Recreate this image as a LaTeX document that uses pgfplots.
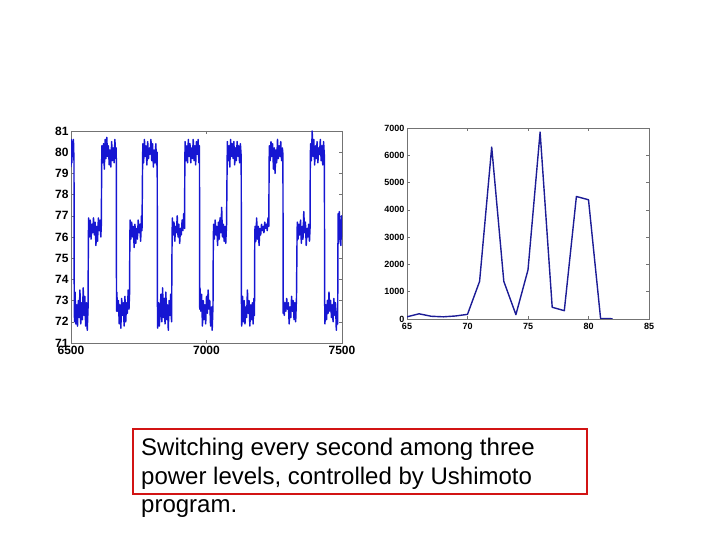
\documentclass[border=0pt]{standalone}
\usepackage{pgfplots}
\pgfplotsset{compat=1.18}
\usepackage{fontspec}
\setmainfont{Liberation Sans}
\definecolor{trace}{RGB}{22,22,210}
\definecolor{histo}{RGB}{28,28,150}
\definecolor{boxred}{RGB}{210,20,20}

\pgfplotsset{
  matlab/.style={
    scale only axis,
    anchor=south west,
    axis line style={black!55, line width=0.6pt},
    tick align=inside,
    tick pos=both,
    major tick length=3pt,
    every tick/.style={black!55, line width=0.5pt},
    /pgf/number format/assume math mode=true,
    /pgf/number format/set thousands separator={},
    scaled ticks=false,
  }
}

\begin{document}
\begin{tikzpicture}
\path[fill=white, use as bounding box] (0,0) rectangle (720pt,540pt);

% left: temperature trace
\begin{axis}[matlab,
  at={(71pt,197pt)}, width=271pt, height=212pt,
  xmin=6500, xmax=7500, ymin=71, ymax=81,
  xtick={6500,7000,7500}, ytick={71,72,...,81},
  ticklabel style={font=\fontsize{12}{12}\selectfont\bfseries},
  yticklabel style={xshift=1pt},
  xticklabel style={yshift=0pt},
]
\addplot[trace, line width=1.45pt, line join=round] coordinates {
(6500,79.3)(6501,80.6)(6503,79.5)(6505,80.5)(6507,79.8)(6509,80.6)(6511,79.6)
(6512,73.1)(6513,72.0)(6515,73.4)(6518,71.9)(6521,72.8)(6524,71.8)(6527,73.0)(6530,72.2)(6533,73.5)(6536,71.9)(6539,72.9)(6542,72.1)(6545,73.6)(6548,72.3)(6551,73.2)(6554,71.8)(6557,72.9)(6560,71.6)(6563,72.7)
(6564,75.8)(6565,76.9)(6568,76.0)(6571,76.8)(6574,75.9)(6577,76.6)(6580,76.2)(6583,76.9)(6586,76.1)(6589,76.7)(6592,75.6)(6595,76.5)(6598,75.8)(6601,76.9)(6604,76.3)(6607,76.8)(6610,76.0)(6612,76.6)
(6613,79.3)(6614,80.3)(6617,79.5)(6620,80.4)(6623,79.2)(6626,80.6)(6629,79.7)(6632,80.7)(6635,79.8)(6638,80.3)(6641,79.4)(6644,80.1)(6647,79.3)(6650,80.5)(6653,79.6)(6656,80.2)(6659,79.5)(6662,80.6)(6665,79.7)(6667,80.2)
(6668,72.5)(6669,73.4)(6672,72.5)(6675,73.0)(6678,71.9)(6681,72.8)(6684,71.7)(6687,73.1)(6690,72.3)(6693,72.9)(6696,71.8)(6699,73.2)(6702,72.0)(6705,72.9)(6708,72.4)(6711,73.5)(6714,72.6)(6716,73.3)
(6717,75.6)(6718,76.8)(6721,75.9)(6724,76.7)(6727,76.0)(6730,76.5)(6733,75.5)(6736,76.6)(6739,75.7)(6742,76.4)(6745,75.9)(6748,76.8)(6751,76.2)(6754,76.6)(6757,75.8)(6760,77.0)(6762,76.3)
(6764,79.3)(6765,80.4)(6768,79.5)(6771,80.6)(6774,79.8)(6777,80.3)(6780,79.4)(6783,80.5)(6786,79.7)(6789,80.2)(6792,79.9)(6795,80.6)(6798,79.6)(6801,80.4)(6804,79.3)(6807,80.1)(6810,79.5)(6813,80.4)(6816,79.4)(6818,80.0)
(6819,72.8)(6820,71.7)(6823,72.9)(6826,71.8)(6829,72.6)(6832,73.3)(6835,72.0)(6838,73.6)(6841,72.2)(6844,73.1)(6847,71.9)(6850,73.4)(6853,72.1)(6856,72.8)(6859,71.6)(6862,73.0)(6865,72.3)(6868,73.3)(6871,72.0)
(6873,76.0)(6874,76.9)(6877,76.1)(6880,76.7)(6883,75.8)(6886,76.5)(6889,76.2)(6892,77.0)(6895,76.0)(6898,76.6)(6901,75.7)(6904,76.4)(6907,76.1)(6910,76.8)(6913,76.3)(6916,77.1)(6919,76.4)
(6920,79.4)(6921,80.5)(6924,79.6)(6927,80.3)(6930,79.5)(6933,80.6)(6936,79.8)(6939,80.4)(6942,79.5)(6945,80.2)(6948,79.7)(6951,80.6)(6954,79.6)(6957,80.3)(6960,79.4)(6963,80.5)(6966,79.9)(6969,80.6)(6972,79.5)(6974,80.3)
(6975,72.6)(6976,73.6)(6979,72.5)(6982,73.3)(6985,71.8)(6988,73.0)(6991,72.1)(6994,72.8)(6997,71.9)(7000,73.2)(7003,72.4)(7006,73.5)(7009,72.6)(7012,73.0)(7015,71.8)(7018,72.7)(7021,71.6)(7024,72.8)
(7025,75.4)(7026,76.6)(7029,75.9)(7032,76.8)(7035,76.1)(7038,76.5)(7041,75.6)(7044,76.7)(7047,75.9)(7050,76.9)(7053,76.2)(7056,77.4)(7059,76.0)(7062,76.6)(7065,75.8)(7068,76.5)(7071,75.7)(7074,76.6)
(7076,79.3)(7077,80.5)(7080,79.6)(7083,80.3)(7086,79.3)(7089,80.6)(7092,79.8)(7095,80.4)(7098,79.7)(7101,80.5)(7104,79.4)(7107,80.2)(7110,79.6)(7113,80.5)(7116,79.8)(7119,80.3)(7122,79.5)(7125,80.4)(7128,79.8)
(7129,72.9)(7130,71.8)(7133,73.2)(7136,72.0)(7139,73.0)(7142,71.9)(7145,72.7)(7148,72.2)(7151,73.5)(7154,72.4)(7157,73.0)(7160,71.8)(7163,72.8)(7166,72.1)(7169,72.9)(7172,71.9)(7175,73.1)(7177,72.3)
(7178,75.6)(7179,76.5)(7182,75.8)(7185,76.9)(7188,75.9)(7191,76.5)(7194,75.6)(7197,76.4)(7200,76.1)(7203,76.6)(7206,76.3)(7209,76.5)(7212,76.2)(7215,76.7)(7218,76.4)(7221,76.6)(7224,76.3)(7227,76.9)(7230,76.5)
(7231,79.4)(7232,80.3)(7235,79.6)(7238,80.5)(7241,79.8)(7244,80.4)(7247,79.2)(7250,80.2)(7253,79.0)(7256,80.1)(7259,79.5)(7262,80.6)(7265,79.7)(7268,80.3)(7271,79.8)(7274,80.5)(7277,79.6)(7280,80.2)(7282,79.9)
(7283,72.4)(7284,73.0)(7287,72.3)(7290,72.9)(7293,72.5)(7296,73.1)(7299,72.6)(7302,72.9)(7305,71.9)(7308,72.7)(7311,72.2)(7314,73.2)(7317,72.5)(7320,73.0)(7323,72.1)(7326,72.9)(7329,72.0)(7332,73.1)
(7334,75.8)(7335,76.7)(7338,75.9)(7341,76.6)(7344,76.1)(7347,76.8)(7350,75.7)(7353,76.5)(7356,75.9)(7359,77.2)(7362,76.2)(7365,76.7)(7368,75.6)(7371,76.4)(7374,76.0)(7377,76.6)(7380,75.8)(7382,76.4)
(7383,79.5)(7384,80.4)(7387,79.6)(7390,81.0)(7393,79.8)(7396,80.6)(7399,79.4)(7402,80.3)(7405,79.7)(7408,80.5)(7411,79.5)(7414,80.2)(7417,79.9)(7420,80.6)(7423,79.6)(7426,80.3)(7429,79.4)(7432,80.5)(7435,79.8)
(7436,73.0)(7437,71.9)(7440,72.8)(7443,72.1)(7446,73.0)(7449,72.4)(7452,73.4)(7455,72.5)(7458,73.0)(7461,72.2)(7464,72.8)(7467,72.0)(7470,73.1)(7473,72.3)(7476,72.9)(7479,71.6)(7482,72.5)(7484,71.9)
(7485,75.5)(7486,77.1)(7488,75.7)(7490,77.2)(7492,75.9)(7494,76.8)(7496,75.6)(7498,77.0)(7500,76.0)
};
\end{axis}

% right: histogram of the trace
\begin{axis}[matlab,
  at={(407pt,221pt)}, width=242pt, height=191pt,
  xmin=65, xmax=85, ymin=0, ymax=7000,
  xtick={65,70,...,85}, ytick={0,1000,...,7000},
  ticklabel style={font=\fontsize{9}{9}\selectfont\bfseries},
  yticklabel style={xshift=1pt},
  xticklabel style={yshift=-1pt},
]
\addplot[histo, line width=1.4pt, line join=round] coordinates {
(65,80)(66,190)(67,100)(68,80)(69,110)(70,170)(71,1380)(72,6300)(73,1380)(74,160)
(75,1800)(76,6850)(77,430)(78,305)(79,4490)(80,4370)(81,15)(82,10)
};
\end{axis}

\draw[boxred, line width=2.5pt] (133pt,46pt) rectangle (587pt,111pt);
\node[anchor=north west, inner sep=0pt, align=left,
      font=\fontsize{24}{28.5}\selectfont] at (141pt,102pt)
  {Switching every second among three\\power levels, controlled by Ushimoto\\program.};
\end{tikzpicture}
\end{document}
